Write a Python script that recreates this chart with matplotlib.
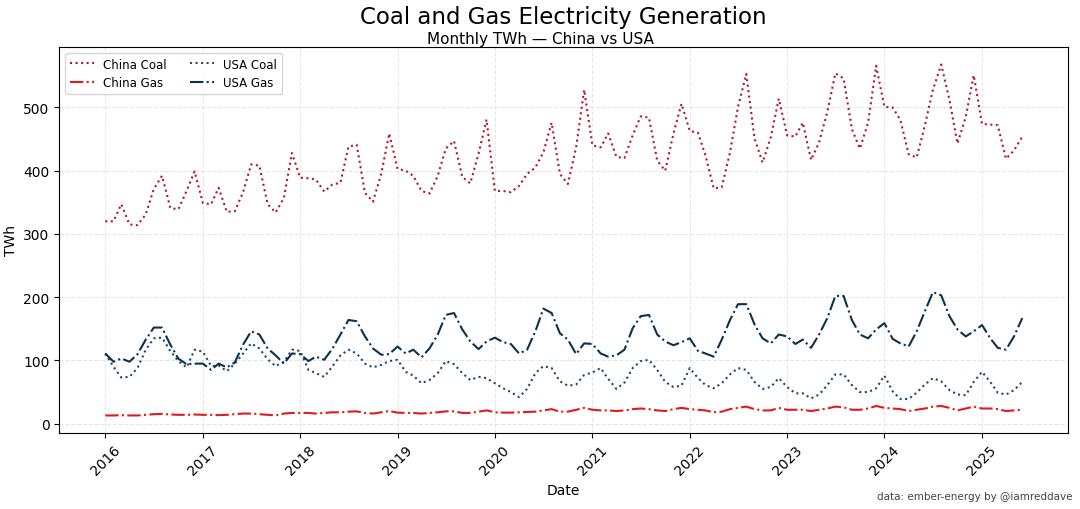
import numpy as np
import pandas as pd
import matplotlib
matplotlib.use("Agg")
import matplotlib.pyplot as plt
import matplotlib.dates as mdates

# monthly values, Jan 2016 - Jun 2025 (TWh)
dates = pd.date_range("2016-01-01", "2025-06-01", freq="MS")

china_coal = [
    320, 320, 347, 315, 314, 331, 371, 392, 341, 339, 368, 399,   # 2016
    349, 347, 373, 335, 336, 366, 410, 408, 347, 334, 357, 428,   # 2017
    389, 388, 386, 367, 378, 381, 438, 441, 365, 351, 395, 459,   # 2018
    403, 400, 392, 368, 364, 392, 435, 447, 390, 380, 427, 481,   # 2019
    368, 368, 366, 376, 395, 405, 429, 476, 395, 379, 437, 528,   # 2020
    440, 437, 459, 422, 420, 456, 486, 484, 416, 400, 459, 506,   # 2021
    463, 460, 424, 372, 374, 429, 501, 553, 451, 413, 453, 514,   # 2022
    456, 454, 476, 417, 445, 493, 554, 546, 466, 435, 476, 566,   # 2023
    501, 500, 480, 426, 421, 472, 528, 568, 512, 443, 485, 551,   # 2024
    474, 473, 472, 419, 432, 454,                                 # 2025
]

china_gas = [
    13, 13, 13.5, 13, 13, 14, 15, 15.5, 14.5, 14, 14, 14.5,
    14, 14, 13.5, 14, 15, 16, 16, 15, 14, 13, 16, 17,
    17, 17, 16, 17, 18, 18, 19, 19.5, 17, 16, 18, 20,
    17.5, 17, 17, 16, 17, 18, 19.5, 19.5, 17, 17, 19, 21,
    18, 17.5, 17.5, 18, 18.5, 19, 21, 23, 19, 19, 22, 25,
    22, 21, 21, 20, 21, 23, 24, 23, 21, 20, 23, 25,
    23, 22, 21, 18, 19, 23, 25, 27, 23, 21, 21, 25,
    22, 22, 22, 20, 22, 24, 27, 26, 22, 22, 24, 28,
    25, 24, 23, 20, 22, 24, 27, 28, 25, 21, 24, 27,
    24, 24, 23, 20, 21, 22,
]

usa_coal = [
    111, 90, 73, 74, 88, 117, 135, 136, 115, 99, 89, 117,
    114, 91, 92, 83, 95, 111, 127, 119, 102, 91, 98, 117,
    115, 85, 80, 74, 90, 108, 117, 111, 95, 89, 93, 99,
    101, 82, 76, 64, 69, 80, 99, 94, 80, 69, 74, 72,
    64, 56, 50, 42, 55, 80, 91, 88, 67, 60, 62, 77,
    81, 88, 71, 55, 65, 88, 99, 101, 85, 66, 58, 60,
    88, 72, 61, 56, 64, 78, 88, 85, 66, 55, 58, 72,
    58, 48, 48, 40, 46, 61, 78, 78, 61, 50, 50, 56,
    76, 51, 39, 39, 49, 62, 72, 67, 53, 46, 45, 66,
    82, 66, 49, 46, 53, 66,
]

usa_gas = [
    111, 98, 103, 98, 110, 133, 152, 152, 125, 103, 94, 95,
    95, 85, 95, 89, 97, 125, 146, 141, 119, 108, 95, 111,
    110, 99, 106, 101, 118, 141, 164, 162, 138, 119, 109, 110,
    122, 111, 117, 105, 119, 141, 172, 175, 149, 130, 118, 130,
    136, 129, 126, 111, 117, 146, 182, 175, 143, 133, 110, 127,
    126, 111, 106, 108, 117, 151, 170, 172, 141, 130, 124, 129,
    135, 115, 111, 106, 133, 164, 189, 189, 157, 135, 127, 141,
    138, 126, 133, 120, 141, 167, 202, 202, 164, 141, 135, 149,
    159, 134, 127, 122, 146, 178, 208, 203, 170, 149, 138, 146,
    156, 135, 120, 117, 138, 167,
]

fig, ax = plt.subplots(figsize=(10.8, 5.1), dpi=100)
fig.subplots_adjust(left=0.055, right=0.989, top=0.906, bottom=0.149)

ax.plot(dates, china_coal, linestyle=":", color="#b2182b", lw=1.5, label="China Coal")
ax.plot(dates, china_gas, linestyle="-.", color="#e31a1c", lw=1.5, label="China Gas")
ax.plot(dates, usa_coal, linestyle=":", color="#1d4a6e", lw=1.5, label="USA Coal")
ax.plot(dates, usa_gas, linestyle="-.", color="#08334f", lw=1.5, label="USA Gas")

ax.xaxis.set_major_locator(mdates.YearLocator())
ax.xaxis.set_major_formatter(mdates.DateFormatter("%Y"))
plt.setp(ax.get_xticklabels(), rotation=45)

ax.grid(True, linestyle="--", color="#dddddd", alpha=0.7)
ax.set_xlabel("Date")
ax.set_ylabel("TWh")

# title centred on the axes, subtitle centred on the figure
fig.text(0.5218, 0.965, "Coal and Gas Electricity Generation", ha="center", va="center", fontsize=16.5)
fig.text(0.5, 0.9235, "Monthly TWh \u2014 China vs USA", ha="center", va="center", fontsize=11)
ax.legend(loc="upper left", ncol=2, fontsize=8.5)

fig.text(0.993, 0.015, "data: ember-energy by @iamreddave", ha="right", va="bottom",
         fontsize=7.5, color="#444444")

fig.savefig("out.png")
